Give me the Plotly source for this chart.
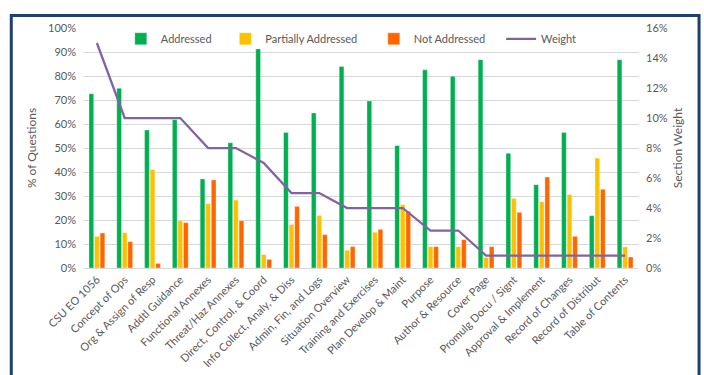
import plotly.graph_objects as go

# Plan sections, in descending order of section weight
categories = [
    "CSU EO 1056", "Concept of Ops", "Org & Assign of Resp", "Addtl Guidance",
    "Functional Annexes", "Threat/Haz Annexes", "Direct, Control, & Coord",
    "Info Collect, Analy, & Diss", "Admin, Fin, and Logs", "Situation Overview",
    "Training and Exercises", "Plan Develop & Maint", "Purpose",
    "Author & Resource", "Cover Page", "Promulg Docu / Signt",
    "Approval & Implement", "Record of Changes", "Record of Distribut",
    "Table of Contents",
]

# Share of questions per section (fractions)
addressed = [0.726, 0.749, 0.575, 0.618, 0.371, 0.522, 0.913, 0.565, 0.646, 0.840,
             0.696, 0.510, 0.826, 0.799, 0.868, 0.478, 0.347, 0.565, 0.218, 0.868]
partially = [0.132, 0.147, 0.410, 0.197, 0.268, 0.283, 0.056, 0.181, 0.219, 0.074,
             0.149, 0.264, 0.089, 0.089, 0.044, 0.290, 0.276, 0.306, 0.458, 0.088]
not_addressed = [0.146, 0.110, 0.019, 0.189, 0.367, 0.197, 0.036, 0.257, 0.139, 0.089,
                 0.161, 0.236, 0.089, 0.118, 0.089, 0.232, 0.379, 0.132, 0.328, 0.046]

# Section weight (right axis)
weight = [0.15, 0.10, 0.10, 0.10, 0.08, 0.08, 0.07, 0.05, 0.05, 0.04,
          0.04, 0.04, 0.025, 0.025, 0.0083, 0.0083, 0.0083, 0.0083, 0.0083, 0.0083]

GREEN = "#00B050"
YELLOW = "#FFC000"
ORANGE = "#FF6600"
PURPLE = "#8064A2"
TEXT = "#595959"
GRID = "#D9D9D9"
FRAME = "#1F3F6E"
FONT = "Lato"

fig = go.Figure()
bar_line = dict(width=0.6, color="rgba(255,255,255,0.55)")
fig.add_trace(go.Bar(x=categories, y=addressed, name="Addressed", legend="legend",
                     marker=dict(color=GREEN, line=bar_line)))
fig.add_trace(go.Bar(x=categories, y=partially, name="Partially Addressed",
                     legend="legend2", marker=dict(color=YELLOW, line=bar_line)))
fig.add_trace(go.Bar(x=categories, y=not_addressed, name="Not Addressed",
                     legend="legend3", marker=dict(color=ORANGE, line=bar_line)))
fig.add_trace(go.Scatter(x=categories, y=weight, name="Weight", yaxis="y2",
                         legend="legend4", mode="lines",
                         line=dict(color=PURPLE, width=2.25)))


def legend_box(x):
    return dict(orientation="h", x=x, y=0.955, xanchor="left", yanchor="middle",
                bgcolor="rgba(0,0,0,0)", font=dict(family=FONT, size=11, color=TEXT))


fig.update_layout(
    width=704, height=375,
    margin=dict(l=83, r=65, t=28, b=107, autoexpand=False),
    paper_bgcolor="white", plot_bgcolor="white",
    font=dict(family=FONT, size=11, color=TEXT),
    barmode="group", bargap=0.40, bargroupgap=0.15,
    showlegend=True,
    legend=legend_box(0.068),
    legend2=legend_box(0.256),
    legend3=legend_box(0.523),
    legend4=legend_box(0.752),
    xaxis=dict(tickangle=-45, showline=True, linecolor=GRID, linewidth=1,
               showgrid=False, ticks="", automargin=False,
               tickfont=dict(size=11, color=TEXT)),
    yaxis=dict(range=[0, 1], dtick=0.1, tickformat=".0%", showgrid=True,
               gridcolor=GRID, gridwidth=1, zeroline=False, ticks="",
               ticklabelstandoff=6, automargin=False,
               title=dict(text="% of Questions", standoff=8,
                          font=dict(size=12, color=TEXT))),
    yaxis2=dict(range=[0, 0.16], dtick=0.02, tickformat=".0%", overlaying="y",
                side="right", showgrid=False, zeroline=False, ticks="",
                ticklabelstandoff=6, automargin=False,
                title=dict(text="Section Weight", standoff=6,
                           font=dict(size=12, color=TEXT))),
    shapes=[dict(type="rect", xref="paper", yref="paper",
                 x0=-0.129, x1=1.108, y0=-0.6, y1=1.052,
                 line=dict(color=FRAME, width=3), fillcolor="rgba(0,0,0,0)")],
)

fig.write_html("out.html")
